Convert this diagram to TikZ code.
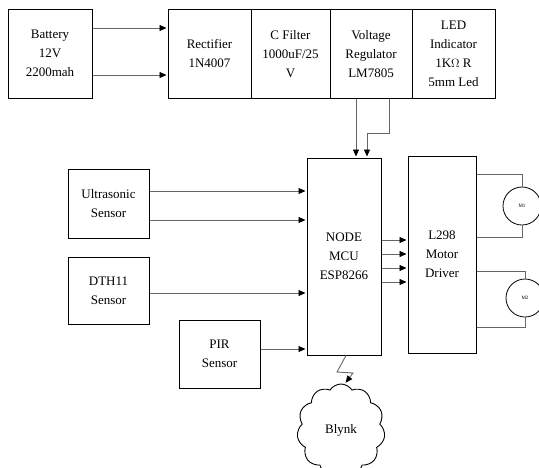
\documentclass[tikz,border=0pt]{standalone}
\usepackage{fontspec}
\setmainfont{Liberation Serif}
\usetikzlibrary{arrows.meta,shapes.symbols,calc}
\begin{document}
\begin{tikzpicture}[x=1pt,y=-1pt,
 box/.style={draw,line width=1pt,inner sep=0pt,align=center,font=\fontsize{13}{19}\selectfont},
 wire/.style={line width=0.9pt,draw=black!60},
 arr/.style={wire,shorten >=1pt,-{Triangle[length=7pt,width=6pt,color=black]}},
 motor/.style={draw,line width=0.8pt,circle,minimum size=38pt,inner sep=0pt,font=\fontsize{5}{6}\selectfont}]
\useasboundingbox (0,0) rectangle (539,467);
% power
\node[box,minimum width=84pt,minimum height=89pt] (bat) at (50,53.5) {Battery\\12V\\2200mah};
\node[box,minimum width=83pt,minimum height=88.5pt] (rect) at (209.5,53.75) {Rectifier\\1N4007};
\node[box,minimum width=79pt,minimum height=88.5pt] (cf) at (290.5,53.75) {C Filter\\1000uF/25\\V};
\node[box,minimum width=82pt,minimum height=88.5pt] (vr) at (371,53.75) {Voltage\\Regulator\\LM7805};
\node[box,minimum width=83pt,minimum height=88.5pt] (led) at (453.5,53.75) {LED\\Indicator\\1K$\Omega$ R\\5mm Led};
% core
\node[box,minimum width=74pt,minimum height=197pt] (mcu) at (344,256.5) {NODE\\MCU\\ESP8266};
\node[box,minimum width=68pt,minimum height=197pt] (drv) at (442,254.5) {L298\\Motor\\Driver};
% sensors
\node[box,minimum width=81pt,minimum height=69pt] (us) at (108.5,203.5) {Ultrasonic\\Sensor};
\node[box,minimum width=81pt,minimum height=67pt] (dth) at (108.5,290.5) {DTH11\\Sensor};
\node[box,minimum width=81pt,minimum height=68pt] (pir) at (219.5,354) {PIR\\Sensor};
% motors
\node[motor] (m1) at (522,206) {M1};
\node[motor] (m2) at (525,298) {M2};
% cloud
\node[draw,line width=0.9pt,cloud,cloud puffs=11,cloud puff arc=115,aspect=0.95,minimum width=88pt,minimum height=92pt,inner sep=0pt,font=\fontsize{13}{16}\selectfont] (blynk) at (341,430) {Blynk};
% connectors
\draw[arr] (bat.east |- 0,28) -- (rect.west |- 0,28);
\draw[arr] (bat.east |- 0,75) -- (rect.west |- 0,75);
\draw[arr] (vr.south -| 356,0) -- (mcu.north -| 356,0);
\draw[arr] (vr.south -| 389,0) -- (389,133) -- (367,133) -- (mcu.north -| 367,0);
\draw[arr] (us.east |- 0,191) -- (mcu.west |- 0,191);
\draw[arr] (us.east |- 0,220) -- (mcu.west |- 0,220);
\draw[arr] (dth.east |- 0,293) -- (mcu.west |- 0,293);
\draw[arr] (pir.east |- 0,349) -- (mcu.west |- 0,349);
\foreach \y in {240,254,268,282} \draw[arr] (mcu.east |- 0,\y) -- (drv.west |- 0,\y);
\draw[wire] (drv.east |- 0,174) -| (m1.north);
\draw[wire] (drv.east |- 0,237) -| (m1.south);
\draw[wire] (drv.east |- 0,271) -| (m2.north);
\draw[wire] (drv.east |- 0,327) -| (m2.south);
\draw[arr] (mcu.south -| 346,0) -- (337,372) -- (353,373) -- ($(blynk.north)+(4,0)$);
\end{tikzpicture}
\end{document}
